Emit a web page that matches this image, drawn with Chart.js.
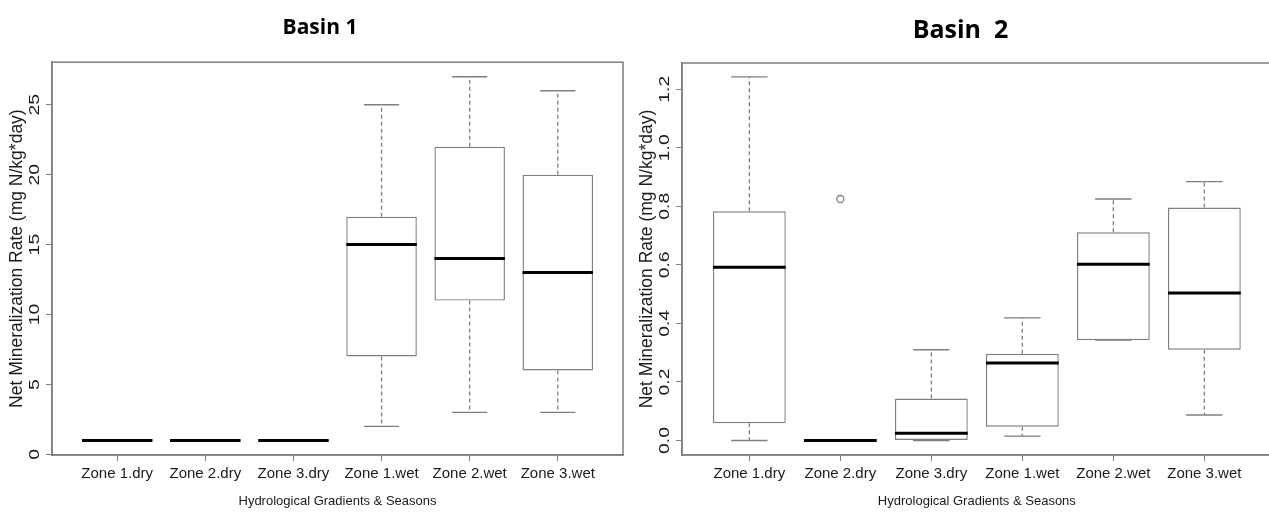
<!DOCTYPE html>
<html>
<head>
<meta charset="utf-8">
<script src="https://cdn.jsdelivr.net/npm/chart.js@4.4.0/dist/chart.umd.min.js"></script>
<style>
  html, body { margin: 0; padding: 0; background: #fff; overflow: hidden; }
  body { width: 1269px; height: 513px; position: relative; }
  .panel { position: absolute; top: 0; height: 513px; }
  #p1 { left: 0; width: 632px; }
  #p2 { left: 632px; width: 645px; }
</style>
</head>
<body>
<div class="panel" id="p1"><canvas id="basin1" width="632" height="513"></canvas></div>
<div class="panel" id="p2"><canvas id="basin2" width="645" height="513"></canvas></div>
<script>
// zones along the x axis
const categories = ["Zone 1.dry", "Zone 2.dry", "Zone 3.dry", "Zone 1.wet", "Zone 2.wet", "Zone 3.wet"];

// Basin 1 box stats
const basin1Min = [1, 1, 1, 2, 3, 3];
const basin1Q1 = [1, 1, 1, 7, 11, 6];
const basin1Median = [1, 1, 1, 15, 14, 13];
const basin1Q3 = [1, 1, 1, 17, 22, 20];
const basin1Max = [1, 1, 1, 25, 27, 26];
const basin1Outliers = [[], [], [], [], [], []];
const basin1Ticks = [0, 5, 10, 15, 20, 25];

// Basin 2 box stats
const basin2Min = [0, 0, 0, 0.015, 0.343, 0.087];
const basin2Q1 = [0.059, 0, 0, 0.047, 0.343, 0.31];
const basin2Median = [0.592, 0, 0.025, 0.265, 0.602, 0.504];
const basin2Q3 = [0.783, 0, 0.143, 0.296, 0.711, 0.796];
const basin2Max = [1.242, 0, 0.31, 0.419, 0.825, 0.884];
const basin2Outliers = [[], [0.825], [], [], [], []];
const basin2Ticks = [0, 0.2, 0.4, 0.6, 0.8, 1.0, 1.2];

const GRAY = "#7f7f7f";
const TEXT = "#1a1a1a";
const SANS = "'Liberation Sans', Arial, sans-serif";

// whiskers, caps and medians, placed with the chart's own scales
const boxPlotExtras = {
  id: "boxPlotExtras",
  afterDatasetsDraw(chart, args, opts) {
    const { ctx, scales: { x, y } } = chart;
    const half = x.getPixelForValue(1.4) - x.getPixelForValue(1);
    const cap = x.getPixelForValue(1.2) - x.getPixelForValue(1);
    ctx.save();
    opts.median.forEach((m, i) => {
      const cx = x.getPixelForValue(i + 1);
      const yMin = y.getPixelForValue(opts.min[i]);
      const yQ1 = y.getPixelForValue(opts.q1[i]);
      const yQ3 = y.getPixelForValue(opts.q3[i]);
      const yMax = y.getPixelForValue(opts.max[i]);
      ctx.strokeStyle = GRAY;
      ctx.lineWidth = 1.3;
      if (opts.max[i] > opts.q3[i]) {
        ctx.setLineDash([4, 3]);
        ctx.beginPath();
        ctx.moveTo(cx, yQ3);
        ctx.lineTo(cx, yMax);
        ctx.stroke();
        ctx.setLineDash([]);
        ctx.beginPath();
        ctx.moveTo(cx - cap, yMax);
        ctx.lineTo(cx + cap, yMax);
        ctx.stroke();
      }
      if (opts.min[i] < opts.q1[i]) {
        ctx.setLineDash([4, 3]);
        ctx.beginPath();
        ctx.moveTo(cx, yQ1);
        ctx.lineTo(cx, yMin);
        ctx.stroke();
        ctx.setLineDash([]);
      }
      if (opts.q3[i] > opts.q1[i]) {
        ctx.beginPath();
        ctx.moveTo(cx - cap, yMin);
        ctx.lineTo(cx + cap, yMin);
        ctx.stroke();
      }
      // median
      ctx.strokeStyle = "#000";
      ctx.lineWidth = 3;
      ctx.beginPath();
      ctx.moveTo(cx - half, y.getPixelForValue(m));
      ctx.lineTo(cx + half, y.getPixelForValue(m));
      ctx.stroke();
    });
    ctx.restore();
  },
  afterDraw(chart, args, opts) {
    const { ctx, chartArea: a, scales: { y } } = chart;
    ctx.save();
    // frame around the plot region
    ctx.strokeStyle = GRAY;
    ctx.lineWidth = 1.5;
    ctx.strokeRect(a.left, a.top, a.right - a.left, a.bottom - a.top);
    // y tick labels read bottom-to-top, a bit stretched like the original
    ctx.fillStyle = TEXT;
    ctx.font = "15.5px " + SANS;
    ctx.textAlign = "center";
    ctx.textBaseline = "middle";
    y.ticks.forEach(t => {
      ctx.save();
      ctx.translate(opts.labelX, y.getPixelForValue(t.value));
      ctx.rotate(-Math.PI / 2);
      ctx.scale(1.25, 1);
      ctx.fillText(t.value.toFixed(opts.decimals), 0, 0);
      ctx.restore();
    });
    ctx.restore();
  }
};

function makeChart(canvasId, cfg) {
  const boxes = categories.map((c, i) => ({ x: i + 1, y: [cfg.q1[i], cfg.q3[i]] }));
  const outliers = [];
  cfg.outliers.forEach((list, i) => list.forEach(v => outliers.push({ x: i + 1, y: v })));

  return new Chart(document.getElementById(canvasId), {
    type: "bar",
    data: {
      datasets: [
        {
          data: boxes,
          backgroundColor: "#fff",
          borderColor: GRAY,
          borderWidth: 1.4,
          borderSkipped: false,
          barPercentage: 1,
          categoryPercentage: 0.8,
        },
        {
          type: "scatter",
          data: outliers,
          pointRadius: 3.5,
          pointBorderWidth: 1.3,
          pointBorderColor: GRAY,
          pointBackgroundColor: "rgba(0,0,0,0)",
        },
      ],
    },
    options: {
      responsive: false,
      animation: false,
      devicePixelRatio: 1,
      layout: { padding: { left: cfg.padLeft, right: cfg.padRight, top: 0, bottom: 0 } },
      plugins: {
        legend: { display: false },
        tooltip: { enabled: false },
        title: {
          display: true,
          text: cfg.title,
          color: "#000",
          font: { family: "'Open Sans', 'Noto Sans', sans-serif", size: cfg.titleSize, weight: "bold" },
          padding: cfg.titlePad,
        },
        boxPlotExtras: {
          min: cfg.min, q1: cfg.q1, median: cfg.median, q3: cfg.q3, max: cfg.max,
          labelX: cfg.tickLabelX, decimals: cfg.decimals,
        },
      },
      scales: {
        x: {
          type: "linear",
          min: 0.26,
          max: 6.74,
          offset: false,
          afterBuildTicks: s => { s.ticks = categories.map((c, i) => ({ value: i + 1 })); },
          afterFit: s => { s.height = 58; },
          grid: { offset: false, drawOnChartArea: false, drawTicks: true, tickLength: 6, color: GRAY },
          border: { color: GRAY, width: 1.5 },
          ticks: {
            autoSkip: false,
            maxRotation: 0,
            padding: 4,
            color: TEXT,
            font: { family: SANS, size: 15 },
            callback: v => categories[v - 1],
          },
          title: {
            display: true,
            text: "Hydrological Gradients & Seasons",
            color: TEXT,
            font: { family: SANS, size: 13 },
            padding: { top: 0, bottom: 4 },
          },
        },
        y: {
          min: cfg.yMin,
          max: cfg.yMax,
          afterBuildTicks: s => { s.ticks = cfg.ticks.map(v => ({ value: v })); },
          afterFit: s => { s.width = cfg.yWidth; },
          grid: { drawOnChartArea: false, drawTicks: true, tickLength: 6, color: GRAY },
          border: { color: GRAY, width: 1.5 },
          ticks: { display: false },
          title: {
            display: true,
            text: "Net Mineralization Rate (mg N/kg*day)",
            color: TEXT,
            font: { family: SANS, size: 17.5 },
            padding: { top: cfg.yTitlePad, bottom: 0 },
          },
        },
      },
    },
    plugins: [boxPlotExtras],
  });
}

makeChart("basin1", {
  title: "Basin 1", titleSize: 21, titlePad: { top: 15, bottom: 22 },
  min: basin1Min, q1: basin1Q1, median: basin1Median, q3: basin1Q3, max: basin1Max,
  outliers: basin1Outliers, ticks: basin1Ticks, decimals: 0,
  yMin: -0.04, yMax: 28.04, padLeft: 17, yWidth: 35, yTitlePad: -10, tickLabelX: 35, padRight: 9,
});

makeChart("basin2", {
  title: "Basin  2", titleSize: 25, titlePad: { top: 16, bottom: 17 },
  min: basin2Min, q1: basin2Q1, median: basin2Median, q3: basin2Q3, max: basin2Max,
  outliers: basin2Outliers, ticks: basin2Ticks, decimals: 1,
  yMin: -0.0496, yMax: 1.2896, padLeft: 16, yWidth: 34, yTitlePad: -11, tickLabelX: 33, padRight: 4,
});
</script>
</body>
</html>
